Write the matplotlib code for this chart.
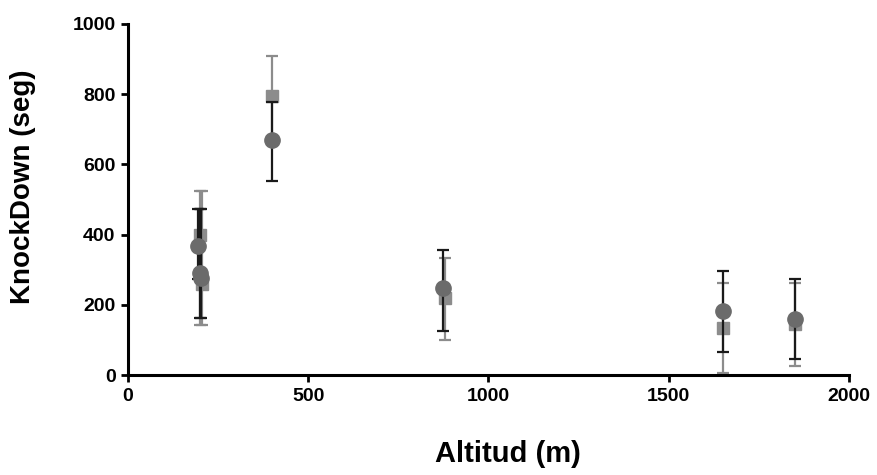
import matplotlib
matplotlib.use("Agg")
import matplotlib.pyplot as plt

plt.rcParams['font.family'] = ['Liberation Sans', 'DejaVu Sans']

# circles (series 1), asymmetric error bars (lower, upper)
alt_c = [195, 200, 203, 400, 875, 1650, 1850]
kd_c = [368, 290, 276, 670, 247, 182, 160]
err_c_lo = [95, 128, 114, 118, 122, 117, 115]
err_c_hi = [105, 183, 197, 108, 108, 113, 113]

# squares (series 2)
alt_s = [200, 205, 400, 878, 1650, 1850]
kd_s = [398, 258, 795, 220, 135, 145]
err_s_lo = [256, 116, 125, 120, 130, 118]
err_s_hi = [127, 267, 115, 112, 128, 118]

fig = plt.figure(figsize=(8.77, 4.75), dpi=100)
ax = fig.add_axes([0.146, 0.2105, 0.822, 0.739])

ax.errorbar(alt_s, kd_s, yerr=[err_s_lo, err_s_hi], fmt='s', color='#8c8c8c', ms=9,
            ecolor='#8c8c8c', elinewidth=1.6, capsize=4.5, capthick=1.6, zorder=2)
ax.errorbar(alt_c, kd_c, yerr=[err_c_lo, err_c_hi], fmt='o', color='#6b6b6b', ms=11,
            ecolor='#1a1a1a', elinewidth=1.6, capsize=4.5, capthick=1.6, zorder=3)

ax.set_xlim(0, 2000)
ax.set_ylim(0, 1000)
ax.set_xticks([0, 500, 1000, 1500, 2000])
ax.set_yticks([0, 200, 400, 600, 800, 1000])

for s in ['top', 'right']:
    ax.spines[s].set_visible(False)
for s in ['left', 'bottom']:
    ax.spines[s].set_linewidth(2.2)

ax.tick_params(width=2, length=5, labelsize=14, pad=4)
for lab in ax.get_xticklabels() + ax.get_yticklabels():
    lab.set_fontweight('bold')

ax.set_ylabel('KnockDown (seg)', fontsize=20, fontweight='bold')
ax.set_xlabel('Altitud (m)', fontsize=21, fontweight='bold')
ax.yaxis.set_label_coords(-0.127, 0.535)
ax.xaxis.set_label_coords(0.527, -0.185)

fig.savefig('out.png', dpi=100)
